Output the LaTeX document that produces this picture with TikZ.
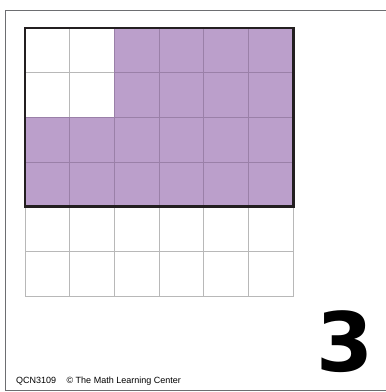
\documentclass[tikz,border=0pt]{standalone}
\usepackage{fontspec}
\setmainfont{Liberation Sans}
\newfontfamily\digitfont{DejaVu Sans}
\usetikzlibrary{positioning}
\definecolor{ink}{HTML}{231F20}
\definecolor{lilac}{HTML}{BB9FCB}
\definecolor{lilacline}{HTML}{9A80A8}
\definecolor{gridgray}{HTML}{B8B8B8}
\definecolor{cardline}{HTML}{6D6E71}
\tikzset{
  card/.style={draw=cardline,line width=0.9pt},
  cell/.style={draw=gridgray,line width=0.9pt},
  shaded/.style={fill=lilac,draw=lilacline,line width=0.9pt},
  outline/.style={draw=ink,line width=2.8pt},
  credit/.style={font=\fontsize{9}{11}\selectfont,anchor=base west,inner sep=0pt},
  bignum/.style={font=\digitfont\bfseries\fontsize{82}{82}\selectfont,anchor=base,inner sep=0pt}
}

\begin{document}
\begin{tikzpicture}[x=1pt,y=-1pt]
  \useasboundingbox (0,0) rectangle (386,392);
  \draw[card] (386,10.5) -- (5.5,10.5) -- (5.5,390.5) -- (386,390.5);

  \foreach \c in {0,...,5} \foreach \r in {0,...,5}
    \draw[cell] (25+\c*44.7,28+\r*44.7) rectangle ++(44.7,44.7);
  \foreach \c in {0,...,5} \foreach \r in {0,...,3} {
    \pgfmathtruncatemacro{\blank}{(\c<2)&&(\r<2)}
    \ifnum\blank=0
      \draw[shaded] (25+\c*44.7,28+\r*44.7) rectangle ++(44.7,44.7);
    \fi
  }
  \draw[outline] (25,28) rectangle (293.2,206.8);

  \node[credit] (code) at (16,383) {QCN3109};
  \node[credit] (owner) at ([xshift=10pt]code.base east) {© The Math Learning Center};
  \node[bignum] (num) at (345.5,371) {3};
\end{tikzpicture}
\end{document}
